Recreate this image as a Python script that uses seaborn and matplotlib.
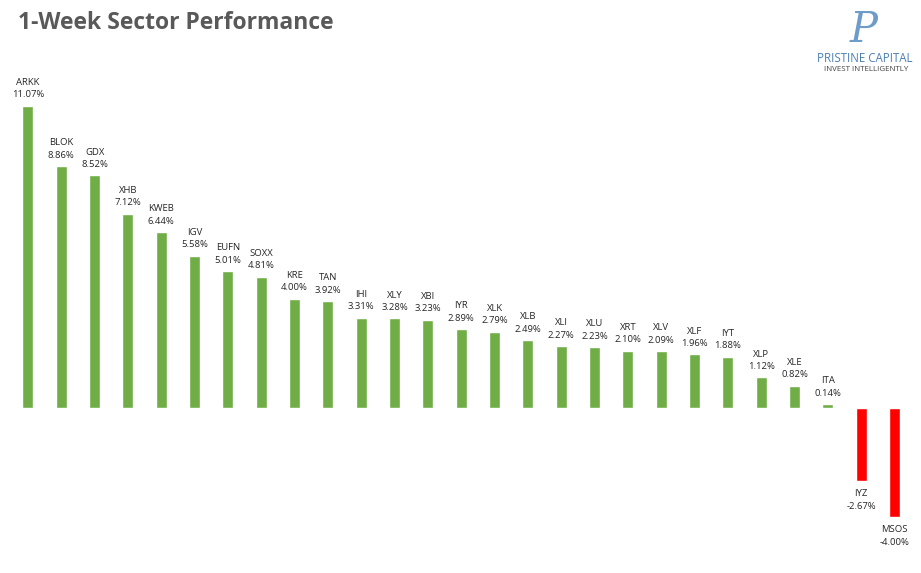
import matplotlib
matplotlib.use("Agg")
import matplotlib.pyplot as plt
import seaborn as sns
import pandas as pd

# Өгөгдөл
tickers = ["ARKK", "BLOK", "GDX", "XHB", "KWEB", "IGV", "EUFN", "SOXX", "KRE", "TAN",
           "IHI", "XLY", "XBI", "IYR", "XLK", "XLB", "XLI", "XLU", "XRT", "XLV",
           "XLF", "IYT", "XLP", "XLE", "ITA", "IYZ", "MSOS"]
returns = [11.07, 8.86, 8.52, 7.12, 6.44, 5.58, 5.01, 4.81, 4.00, 3.92,
           3.31, 3.28, 3.23, 2.89, 2.79, 2.49, 2.27, 2.23, 2.10, 2.09,
           1.96, 1.88, 1.12, 0.82, 0.14, -2.67, -4.00]

df = pd.DataFrame({"ticker": tickers, "ret": returns})
colors = ["#70AD47" if v >= 0 else "#FF0000" for v in returns]

sns.set_style("white")
plt.rcParams["font.family"] = ["Open Sans", "DejaVu Sans"]

fig = plt.figure(figsize=(9.21, 5.73), dpi=100)
ax = fig.add_axes([11.3 / 921, 13 / 573, 900 / 921, 480 / 573])

sns.barplot(data=df, x="ticker", y="ret", hue="ticker", palette=colors,
            width=0.33, saturation=1, legend=False, ax=ax)

ax.set_xlim(-0.5, len(tickers) - 0.5)
ax.set_ylim(-5.57, 12.01)
ax.axis("off")

# Шошго
for i, (t, v) in enumerate(zip(tickers, returns)):
    if v >= 0:
        ax.annotate(f"{v:.2f}%", (i, v), xytext=(0, 4.5), textcoords="offset points",
                    ha="center", va="bottom", fontsize=6.8, color="#262626")
        ax.annotate(t, (i, v), xytext=(0, 13.5), textcoords="offset points",
                    ha="center", va="bottom", fontsize=6.8, color="#262626")
    else:
        ax.annotate(t, (i, v), xytext=(0, -6), textcoords="offset points",
                    ha="center", va="top", fontsize=6.8, color="#262626")
        ax.annotate(f"{v:.2f}%", (i, v), xytext=(0, -15), textcoords="offset points",
                    ha="center", va="top", fontsize=6.8, color="#262626")

# Гарчиг
fig.text(18 / 921, 1 - 23 / 573, "1-Week Sector Performance", fontsize=16.5,
         fontweight="bold", color="#595959", va="center", ha="left")

# Лого
fig.text(864 / 921, 1 - 30 / 573, "P", fontsize=30, style="italic",
         color="#6E9CC8", ha="center", va="center", family="DejaVu Serif")
fig.text(865 / 921, 1 - 59 / 573, "PRISTINE CAPITAL", fontsize=8.3,
         color="#4A7FB5", ha="center", va="center")
fig.text(866 / 921, 1 - 70 / 573, "INVEST INTELLIGENTLY", fontsize=5.7,
         color="#404040", ha="center", va="center")

fig.savefig("out.png", dpi=100)
